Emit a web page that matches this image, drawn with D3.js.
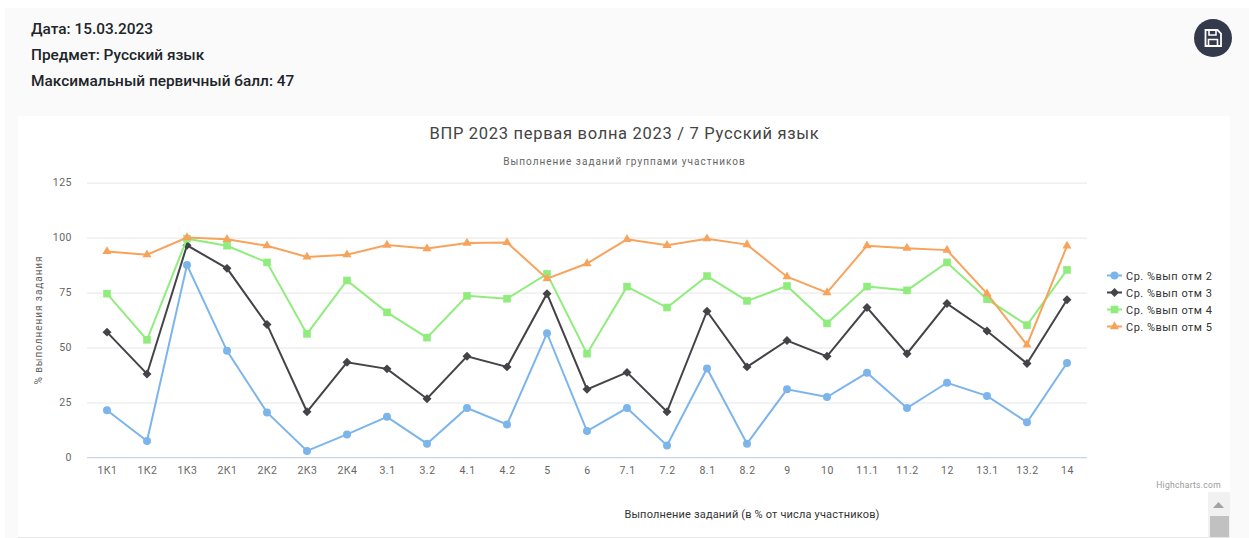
<!DOCTYPE html>
<html><head><meta charset="utf-8">
<script src="https://cdn.jsdelivr.net/npm/d3@7/dist/d3.min.js"></script>
<style>
html,body{margin:0;padding:0;background:#fff;overflow:hidden}
svg{display:block}
text{font-family:Roboto,"Open Sans",sans-serif}
</style></head><body><svg id="c" width="1249" height="538"></svg>
<script>
const categories=["1К1","1К2","1К3","2К1","2К2","2К3","2К4","3.1","3.2","4.1","4.2","5","6","7.1","7.2","8.1","8.2","9","10","11.1","11.2","12","13.1","13.2","14"];
const seriesNames=["Ср. %вып отм 2","Ср. %вып отм 3","Ср. %вып отм 4","Ср. %вып отм 5"];
const otm2=[21.5,7.5,87.5,48.5,20.5,3,10.5,18.5,6.3,22.5,15,56.5,12,22.5,5.5,40.5,6.3,31,27.5,38.5,22.5,34,28,16,43];
const otm3=[57,38,96.5,86,60.5,20.8,43.3,40.3,26.7,46,41.2,74.5,31,38.7,20.8,66.5,41.2,53.2,46,68.2,47.2,70,57.5,42.7,71.7];
const otm4=[74.5,53.5,99.5,96.3,88.7,56.2,80.5,66,54.5,73.5,72.2,83.5,47.2,77.7,68.2,82.5,71.2,78,61,77.7,76,88.7,72,60.2,85.3];
const otm5=[93.7,92.2,100,99.2,96.3,91.2,92.2,96.6,95,97.5,97.8,81.3,88.2,99.2,96.5,99.5,96.8,82.2,75,96.3,95.2,94.3,74.5,51.2,96.2];
const yTicks=[0,25,50,75,100,125];
const colors=["#7cb5ec","#434348","#90ed7d","#f7a35c"];
const evenDiamond={draw(ctx,size){const r=Math.sqrt(size/2);ctx.moveTo(0,-r);ctx.lineTo(r,0);ctx.lineTo(0,r);ctx.lineTo(-r,0);ctx.closePath();}};
const symbols=[d3.symbolCircle,evenDiamond,d3.symbolSquare,d3.symbolTriangle];
const symSizes=[50,40,58,36];
const infoLines=["Дата: 15.03.2023","Предмет: Русский язык","Максимальный первичный балл: 47"];

const svg=d3.select("#c");
svg.append("rect").attr("x",5).attr("y",8).attr("width",1244).attr("height",530).attr("fill","#fafafa");
svg.append("rect").attr("x",18).attr("y",116).attr("width",1212).attr("height",421).attr("fill","#fff");
svg.append("line").attr("x1",18).attr("x2",1230).attr("y1",537.5).attr("y2",537.5).attr("stroke","#e8e8e8");

svg.selectAll(".info").data(infoLines).join("text").attr("class","info")
 .attr("x",31).attr("y",(d,i)=>34+i*26).attr("font-size",15.4).attr("font-weight",500).attr("fill","#212529").text(d=>d);

// save button
const btn=svg.append("g").attr("transform","translate(1213,38)");
btn.append("circle").attr("r",19).attr("fill","#343a4b");
btn.append("path").attr("d","M-7.5,-8 H4.5 L8,-4.5 V8 H-7.5 Z").attr("fill","none").attr("stroke","#fff").attr("stroke-width",1.8);
btn.append("path").attr("d","M-4,-7.5 V-3 H3 V-7.5 M-4.5,7.5 V1.5 H4.5 V7.5").attr("fill","none").attr("stroke","#fff").attr("stroke-width",1.6);

const x=d3.scalePoint().domain(categories).range([107,1067]);
const y=d3.scaleLinear().domain([0,125]).range([457.5,182.6]);
const L=87,R=1087;

svg.append("text").attr("x",624.5).attr("y",139).attr("text-anchor","middle").attr("font-size",16.5).attr("letter-spacing",0.7).attr("fill","#444").text("ВПР 2023 первая волна 2023 / 7 Русский язык");
svg.append("text").attr("x",624.5).attr("y",165).attr("text-anchor","middle").attr("font-size",10).attr("letter-spacing",1).attr("fill","#666").text("Выполнение заданий группами участников");

const gy=svg.append("g").attr("transform",`translate(${L},0)`).call(d3.axisLeft(y).tickValues(yTicks).tickSize(-(R-L)).tickPadding(15));
gy.select(".domain").remove();
gy.selectAll(".tick line").attr("stroke","#e6e6e6");
gy.selectAll(".tick text").attr("font-family","Roboto,sans-serif").attr("font-size",10.5).attr("letter-spacing",0.5).attr("fill","#666");

const gx=svg.append("g").attr("transform","translate(0,457.5)").call(d3.axisBottom(x).tickSize(0).tickPadding(9));
gx.select(".domain").attr("d",`M${L},0H${R}`).attr("stroke","#ccd6eb");
gx.selectAll(".tick text").attr("font-family","Roboto,sans-serif").attr("font-size",10.5).attr("letter-spacing",0.5).attr("fill","#666");

svg.append("text").attr("transform","translate(42,320) rotate(-90)").attr("text-anchor","middle").attr("font-size",10).attr("letter-spacing",0.95).attr("fill","#666").text("% выполнения задания");
svg.append("text").attr("x",752).attr("y",518).attr("text-anchor","middle").attr("font-size",11).attr("letter-spacing",0.17).attr("fill","#333").text("Выполнение заданий (в % от числа участников)");
svg.append("text").attr("x",1221).attr("y",488).attr("text-anchor","end").attr("font-size",8.5).attr("letter-spacing",0.3).attr("fill","#999").text("Highcharts.com");

const line=d3.line().x((d,i)=>x(categories[i])).y(d=>y(d));
[otm2,otm3,otm4,otm5].forEach((vals,s)=>{
  const g=svg.append("g");
  g.append("path").attr("d",line(vals)).attr("fill","none").attr("stroke",colors[s]).attr("stroke-width",2);
  g.selectAll("path.m").data(vals).join("path").attr("class","m")
   .attr("transform",(d,i)=>`translate(${x(categories[i])},${y(d)})`)
   .attr("d",d3.symbol().type(symbols[s]).size(symSizes[s])).attr("fill",colors[s]);
});

const leg=svg.append("g");
seriesNames.forEach((n,s)=>{
  const ly=275.5+s*17;
  leg.append("line").attr("x1",1107).attr("x2",1122).attr("y1",ly).attr("y2",ly).attr("stroke",colors[s]).attr("stroke-width",2);
  leg.append("path").attr("transform",`translate(1114.5,${ly})`).attr("d",d3.symbol().type(symbols[s]).size(symSizes[s])).attr("fill",colors[s]);
  leg.append("text").attr("x",1126).attr("y",ly+4).attr("font-size",11).attr("letter-spacing",0.5).attr("fill","#333").text(n);
});

// scrollbar
svg.append("rect").attr("x",1208).attr("y",492).attr("width",22).attr("height",45).attr("fill","#f1f1f1");
svg.append("path").attr("d","M1213,508 L1218.5,502 L1224,508 Z").attr("fill","#a3a3a3");
svg.append("rect").attr("x",1210).attr("y",516).attr("width",19).attr("height",21).attr("fill","#c1c1c1");
</script></body></html>
